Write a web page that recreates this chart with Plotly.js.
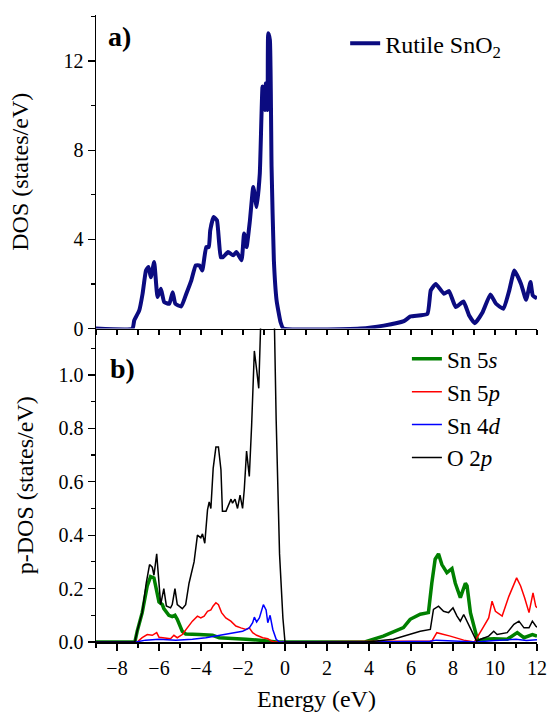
<!DOCTYPE html>
<html>
<head>
<meta charset="utf-8">
<script src="https://cdn.plot.ly/plotly-3.0.1.min.js"></script>
<style>html,body{margin:0;padding:0;background:#fff;}#chart{width:548px;height:715px;}</style>
</head>
<body>
<div id="chart"></div>
<script>
// ---- Panel a: total DOS of rutile SnO2 ----
const energyTotal = [-9, -7.26, -7.18, -6.94, -6.78, -6.62, -6.5, -6.39, -6.23, -6.07, -5.91, -5.75, -5.51, -5.35, -5.22, -4.94, -4.70, -4.46, -4.25, -4.07, -3.94, -3.75, -3.63, -3.56, -3.40, -3.24, -3.06, -2.95, -2.71, -2.47, -2.31, -2.07, -1.95, -1.83, -1.67, -1.51, -1.35, -1.20, -1.07, -0.96, -0.91, -0.83, -0.80, -0.72, -0.64, -0.53, -0.40, -0.21, -0.08, 3.59, 4.70, 5.66, 5.98, 6.78, 6.94, 7.18, 7.57, 7.81, 8.13, 8.50, 8.77, 9.04, 9.41, 9.78, 10.05, 10.40, 10.68, 10.92, 11.24, 11.48, 11.69, 11.80, 12.0];
const dosTotal = [0, 0, 0.36, 0.81, 1.57, 2.6, 2.76, 2.3, 2.98, 1.41, 1.78, 1.18, 1.11, 1.63, 1.11, 0.99, 1.56, 2.16, 2.83, 2.83, 2.6, 3.65, 3.65, 4.4, 5.0, 4.85, 3.2, 3.2, 3.43, 3.28, 3.43, 3.06, 4.26, 3.65, 4.85, 6.35, 5.45, 6.95, 10.85, 9.8, 11.0, 9.8, 13.24, 12.94, 7.25, 3.06, 1.26, 0.28, 0, 0, 0.13, 0.33, 0.54, 0.66, 1.71, 2.0, 1.56, 1.68, 0.96, 1.21, 0.58, 0.24, 0.73, 1.53, 1.11, 0.88, 1.71, 2.6, 2.0, 1.29, 2.08, 1.48, 1.35];

// ---- Panel b: partial DOS ----
const energySn5s = [-9, -7.15, -7.04, -6.8, -6.56, -6.40, -6.24, -6.13, -6.0, -5.84, -5.77, -5.53, -5.37, -5.24, -5.13, -4.89, -4.73, -4.09, -3.45, -3.13, -2.5, -1.86, -1.2, -0.58, -0.4, 3.80, 4.68, 5.64, 5.96, 6.44, 6.83, 6.99, 7.15, 7.31, 7.47, 7.71, 7.95, 8.11, 8.35, 8.59, 8.67, 8.83, 9.07, 9.18, 9.46, 9.94, 10.58, 11.06, 11.38, 11.78, 12.0];
const dosSn5s = [0, 0, 0.04, 0.11, 0.21, 0.245, 0.24, 0.195, 0.15, 0.14, 0.125, 0.10, 0.095, 0.10, 0.085, 0.04, 0.03, 0.028, 0.025, 0.016, 0.012, 0.01, 0.007, 0.002, 0, 0, 0.022, 0.054, 0.085, 0.104, 0.11, 0.22, 0.31, 0.33, 0.29, 0.26, 0.275, 0.22, 0.166, 0.22, 0.21, 0.11, 0.04, 0.004, 0.01, 0.012, 0.01, 0.035, 0.016, 0.028, 0.022];

const energySn5p = [-9, -7.04, -6.8, -6.56, -6.32, -6.11, -6.0, -5.77, -5.45, -5.29, -5.13, -4.89, -4.65, -4.41, -4.17, -4.01, -3.85, -3.69, -3.53, -3.42, -3.29, -3.17, -3.02, -2.82, -2.58, -2.34, -2.1, -1.86, -1.70, -1.54, -1.35, -1.06, -0.82, -0.66, -0.5, 5.8, 7.0, 7.23, 7.39, 7.87, 8.51, 9.02, 9.38, 9.7, 9.86, 10.02, 10.34, 10.66, 11.03, 11.22, 11.41, 11.62, 11.81, 11.94, 12.0];
const dosSn5p = [0, 0, 0.016, 0.028, 0.025, 0.035, 0.018, 0.016, 0.012, 0.025, 0.016, 0.028, 0.053, 0.078, 0.097, 0.09, 0.097, 0.115, 0.12, 0.135, 0.147, 0.14, 0.11, 0.09, 0.078, 0.06, 0.053, 0.047, 0.053, 0.035, 0.025, 0.016, 0.012, 0.004, 0, 0.002, 0.004, 0.035, 0.032, 0.022, 0.007, 0, 0.047, 0.09, 0.153, 0.115, 0.097, 0.171, 0.24, 0.21, 0.166, 0.11, 0.184, 0.134, 0.128];

const energySn4d = [-9, -7.1, -6.64, -6.0, -5.2, -4.41, -3.77, -3.13, -2.5, -2.02, -1.70, -1.54, -1.46, -1.35, -1.22, -1.03, -0.90, -0.82, -0.71, -0.58, -0.42, -0.26, 4.0, 6.9, 7.2, 8.0, 9.1, 10.0, 11.0, 11.5, 12.0];
const dosSn4d = [0, 0, 0.007, 0.01, 0.007, 0.01, 0.016, 0.025, 0.032, 0.04, 0.053, 0.072, 0.093, 0.075, 0.09, 0.14, 0.12, 0.072, 0.10, 0.047, 0.01, 0, 0, 0.003, 0.007, 0.005, 0, 0.006, 0.01, 0.006, 0.008];

const energyO2p = [-9, -7.15, -7.04, -6.80, -6.61, -6.45, -6.32, -6.24, -6.11, -6.0, -5.92, -5.77, -5.65, -5.45, -5.37, -5.24, -5.13, -4.89, -4.73, -4.57, -4.33, -4.17, -4.01, -3.93, -3.82, -3.69, -3.61, -3.53, -3.42, -3.29, -3.17, -3.05, -2.98, -2.81, -2.66, -2.57, -2.5, -2.38, -2.26, -2.14, -2.02, -1.94, -1.83, -1.70, -1.59, -1.46, -1.35, -1.25, -1.17, -1.05, -0.9, -0.75, -0.6, -0.5, -0.42, -0.26, -0.10, 0.0, 3.88, 5.16, 5.96, 6.44, 6.92, 7.07, 7.31, 7.55, 7.79, 8.0, 8.19, 8.35, 8.51, 8.67, 8.91, 9.12, 9.38, 9.7, 9.94, 10.1, 10.58, 10.90, 11.14, 11.38, 11.62, 11.78, 11.94, 12.0];
const dosO2p = [0, 0, 0.041, 0.11, 0.22, 0.29, 0.28, 0.25, 0.33, 0.21, 0.14, 0.20, 0.135, 0.128, 0.14, 0.20, 0.14, 0.125, 0.14, 0.22, 0.30, 0.40, 0.39, 0.405, 0.37, 0.495, 0.525, 0.50, 0.65, 0.73, 0.73, 0.645, 0.49, 0.49, 0.52, 0.535, 0.52, 0.535, 0.50, 0.55, 0.50, 0.57, 0.715, 0.62, 0.81, 1.09, 1.02, 0.95, 1.16, 1.5, 2.0, 1.8, 1.6, 1.17, 0.83, 0.33, 0.09, 0, 0, 0.01, 0.028, 0.04, 0.047, 0.122, 0.134, 0.115, 0.11, 0.128, 0.097, 0.078, 0.103, 0.078, 0.04, 0.004, 0.012, 0.022, 0.04, 0.028, 0.035, 0.066, 0.078, 0.053, 0.053, 0.078, 0.06, 0.055];

const FONT = 'Liberation Serif, Times New Roman, serif';

const traces = [
  {x: energyTotal, y: dosTotal, xaxis: 'x2', yaxis: 'y', type: 'scatter', mode: 'lines',
   name: 'Rutile SnO<sub>2</sub>', line: {color: '#0b0b80', width: 4, shape: 'spline', smoothing: 0.4}, legend: 'legend'},
  {x: energySn5s, y: dosSn5s, xaxis: 'x', yaxis: 'y2', type: 'scatter', mode: 'lines',
   name: 'Sn 5<i>s</i>', line: {color: '#008000', width: 3.5}, legend: 'legend2'},
  {x: energySn5p, y: dosSn5p, xaxis: 'x', yaxis: 'y2', type: 'scatter', mode: 'lines',
   name: 'Sn 5<i>p</i>', line: {color: '#ff0000', width: 1.5}, legend: 'legend2'},
  {x: energySn4d, y: dosSn4d, xaxis: 'x', yaxis: 'y2', type: 'scatter', mode: 'lines',
   name: 'Sn 4<i>d</i>', line: {color: '#0000ff', width: 1.5}, legend: 'legend2'},
  {x: energyO2p, y: dosO2p, xaxis: 'x', yaxis: 'y2', type: 'scatter', mode: 'lines',
   name: 'O 2<i>p</i>', line: {color: '#000000', width: 1.5}, legend: 'legend2'}
];

const axisCommon = {showline: true, linecolor: '#000', linewidth: 1.5, showgrid: false, zeroline: false,
  tickcolor: '#000', tickwidth: 1.2, tickfont: {family: FONT, size: 20, color: '#000'}};

const layout = {
  width: 548, height: 715,
  margin: {l: 96, r: 11, t: 15, b: 73},
  paper_bgcolor: '#fff', plot_bgcolor: '#fff',
  font: {family: FONT, color: '#000'},
  showlegend: true,
  xaxis: Object.assign({}, axisCommon, {
    anchor: 'y2', domain: [0, 1], range: [-9, 12], tick0: 0, dtick: 2,
    ticks: 'outside', ticklen: 7,
    minor: {dtick: 1, ticks: 'outside', ticklen: 4, tickcolor: '#000', tickwidth: 1.2},
    title: {text: 'Energy (eV)', font: {family: FONT, size: 24}, standoff: 12}
  }),
  xaxis2: Object.assign({}, axisCommon, {
    anchor: 'y', matches: 'x', range: [-9, 12], tick0: 0, dtick: 1,
    ticks: 'outside', ticklen: 5, showticklabels: false
  }),
  xaxis3: Object.assign({}, axisCommon, {
    overlaying: 'x2', side: 'top', anchor: 'y', range: [-9, 12], tick0: 0, dtick: 1,
    ticks: 'inside', ticklen: 5, showticklabels: false
  }),
  yaxis: Object.assign({}, axisCommon, {
    domain: [0.5, 1], anchor: 'x2', range: [0, 14.06], tick0: 0, dtick: 4,
    ticks: 'outside', ticklen: 7,
    minor: {dtick: 2, ticks: 'outside', ticklen: 4, tickcolor: '#000', tickwidth: 1.2},
    title: {text: 'DOS (states/eV)', font: {family: FONT, size: 24}, standoff: 28}
  }),
  yaxis3: Object.assign({}, axisCommon, {
    overlaying: 'y', side: 'right', anchor: 'x2', range: [0, 14.06], tick0: 0, dtick: 2,
    ticks: 'inside', ticklen: 5, showticklabels: false
  }),
  yaxis2: Object.assign({}, axisCommon, {
    domain: [0, 0.5], anchor: 'x', range: [0, 1.174], tick0: 0, dtick: 0.2, tickformat: '.1f',
    ticks: 'outside', ticklen: 7,
    minor: {dtick: 0.1, ticks: 'outside', ticklen: 4, tickcolor: '#000', tickwidth: 1.2},
    title: {text: 'p-DOS (states/eV)', font: {family: FONT, size: 24}, standoff: 18}
  }),
  yaxis4: Object.assign({}, axisCommon, {
    overlaying: 'y2', side: 'right', anchor: 'x', range: [0, 1.174], tick0: 0, dtick: 0.1,
    ticks: 'inside', ticklen: 5, showticklabels: false
  }),
  legend: {x: 0.565, y: 0.99, xanchor: 'left', yanchor: 'top', bgcolor: 'rgba(0,0,0,0)',
    font: {family: FONT, size: 24, color: '#000'}, itemwidth: 30},
  legend2: {x: 0.705, y: 0.486, xanchor: 'left', yanchor: 'top', bgcolor: 'rgba(0,0,0,0)',
    font: {family: FONT, size: 23, color: '#000'}, itemwidth: 30, tracegroupgap: 0},
  annotations: [
    {text: '<b>a)</b>', xref: 'paper', yref: 'paper', x: 0.054, y: 0.9665, xanchor: 'center', yanchor: 'middle',
     showarrow: false, font: {family: FONT, size: 28, color: '#000'}},
    {text: '<b>b)</b>', xref: 'paper', yref: 'paper', x: 0.059, y: 0.437, xanchor: 'center', yanchor: 'middle',
     showarrow: false, font: {family: FONT, size: 28, color: '#000'}}
  ]
};

Plotly.newPlot('chart', traces, layout, {staticPlot: true, displayModeBar: false});
</script>
</body>
</html>
